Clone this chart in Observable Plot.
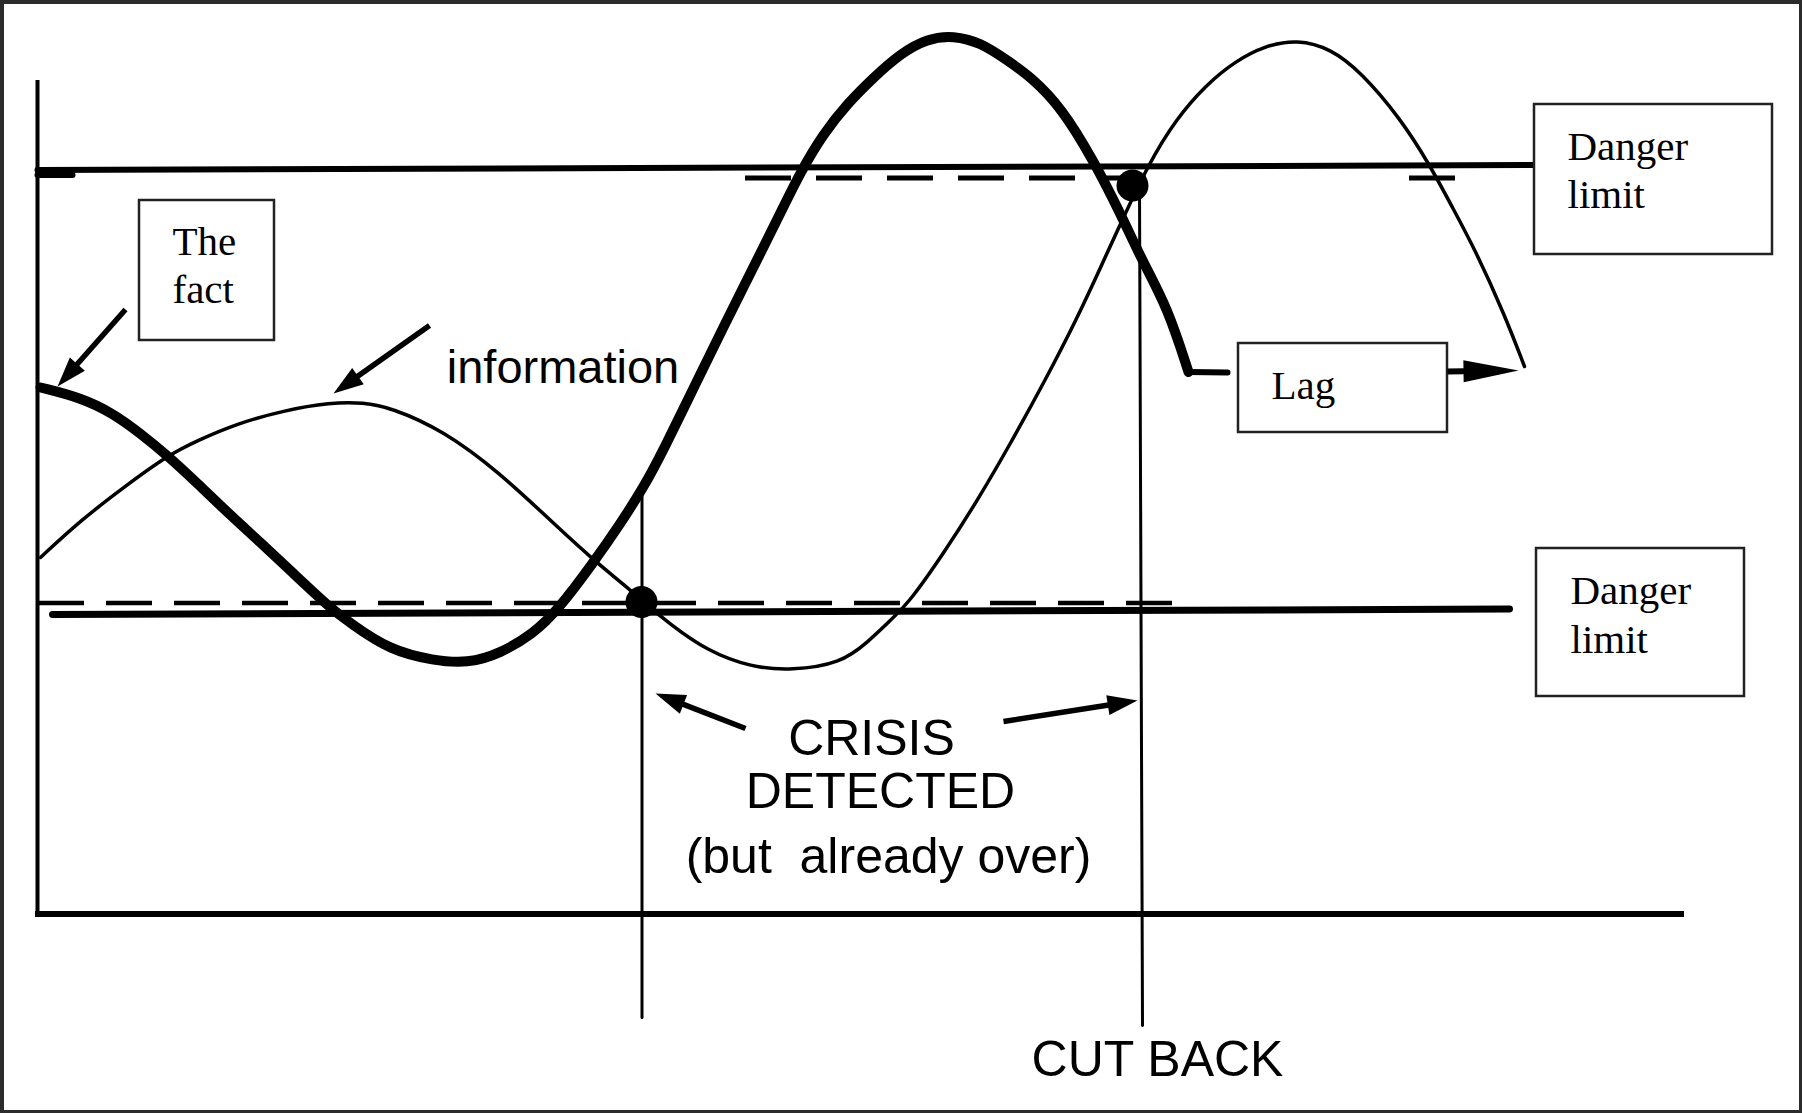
<!DOCTYPE html>
<html>
<head>
<meta charset="utf-8">
<script src="https://cdn.jsdelivr.net/npm/d3@7"></script>
<script src="https://cdn.jsdelivr.net/npm/@observablehq/plot@0.6"></script>
<style>
  html, body { margin: 0; padding: 0; background: #fff; overflow: hidden; }
</style>
</head>
<body>
<div id="chart"></div>
<script>
// ---- Data (time units along x, level units along y; 0 = bottom axis) ----
// "The fact" (thick curve)
const factT = [0.3, 4.3, 7.6, 10.3, 13.0, 16.0, 19.0, 22.3, 25.6, 29.0, 31.3, 35.3, 39.6, 43.0, 46.3, 49.6, 52.0, 55.6, 58.3, 60.6, 62.5, 66.0, 68.6, 70.6, 72.3, 74.3, 76.3, 78.6, 81.0, 83.6, 86.3, 89.0, 91.6, 94.3, 97.0, 99.3, 102.4, 105.6, 108.3, 110.6, 113.0, 115.1];
const factLevel = [52.65, 51.65, 50.05, 48.05, 45.85, 43.05, 40.15, 37.15, 34.05, 30.85, 29.05, 26.35, 25.35, 25.05, 26.05, 28.05, 30.35, 35.15, 39.05, 42.65, 46.2, 53.4, 58.7, 62.7, 66.1, 70.1, 74.2, 78.05, 81.05, 83.65, 86.05, 87.55, 87.85, 87.15, 85.35, 83.75, 80.65, 75.35, 70.05, 65.05, 60.65, 54.2];
// horizontal tail of the fact curve leading to the "Lag" box
const lagTailT = [115.1, 119.0];
const lagTailLevel = [54.2, 54.15];

// "information" (thin curve)
const infoT = [0.3, 4.3, 8.6, 13.0, 16.0, 20.0, 24.6, 29.3, 32.6, 35.3, 40.6, 46.3, 51.3, 55.3, 59.0, 60.4, 63.3, 66.9, 71.4, 75.4, 80.3, 83.0, 85.6, 87.3, 90.6, 94.0, 97.3, 100.6, 104.0, 106.3, 108.0, 111.0, 113.9, 116.8, 119.7, 122.8, 126.0, 129.3, 132.3, 136.3, 139.2, 141.5, 143.8, 146.7, 148.7];
const infoLevel = [35.65, 39.35, 42.65, 45.85, 47.35, 49.05, 50.35, 51.15, 51.15, 50.65, 48.35, 44.05, 39.35, 35.65, 32.65, 31.35, 28.95, 26.35, 24.65, 24.35, 25.05, 27.15, 29.65, 31.35, 36.05, 41.35, 47.05, 53.05, 59.65, 64.65, 68.35, 74.85, 79.55, 82.85, 85.25, 86.85, 87.45, 86.55, 84.25, 79.55, 74.95, 70.65, 66.35, 59.95, 54.75];

// Danger limits (solid) and warning levels (dashed)
const upperLimitT = [0, 149.7];
const upperLimitLevel = [74.4, 74.9];
const upperStubT = [0, 3.5];
const upperStubLevel = [73.9, 73.9];
const lowerLimitT = [1.5, 147.2];
const lowerLimitLevel = [29.95, 30.5];
const upperWarnStart = [70.8, 137.2];
const upperWarnEnd = [113.0, 142.4];
const upperWarnLevel = [73.6, 73.6];
const lowerWarnStart = [0.1];
const lowerWarnEnd = [114.2];
const lowerWarnLevel = [31.1];

// Axes extents
const timeAxisStart = -0.2;
const timeAxisEnd = 164.7;
const levelAxisTop = 83.35;

// Event lines: crisis detected, cut back
const crisisT = [60.45, 60.45];
const crisisLevel = [43.05, -10.35];
const cutbackT = [110.2, 110.5];
const cutbackLevel = [72.35, -11.15];
const markerT = [60.4, 109.5];
const markerLevel = [31.2, 72.85];

// Label boxes: The fact, Danger limit (upper), Lag, Danger limit (lower)
const boxLeft = [10.2, 149.7, 120.1, 149.9];
const boxRight = [23.7, 173.5, 141.0, 170.7];
const boxTop = [71.35, 80.95, 57.05, 36.55];
const boxBottom = [57.35, 65.95, 48.15, 21.75];

const boxLabels = ["The", "fact", "Danger", "limit", "Lag", "Danger", "limit"];
const boxLabelT = [13.5, 13.5, 153.0, 153.0, 123.4, 153.3, 153.3];
const boxLabelLevel = [65.95, 61.15, 75.45, 70.65, 51.55, 31.05, 26.15];

const noteLabels = ["information", "CRISIS", "DETECTED", "(but\u00a0 already over)", "CUT BACK"];
const noteT = [52.55, 83.4, 84.3, 85.1, 112.0];
const noteLevel = [53.15, 15.95, 10.65, 4.15, -16.15];

// Pointer arrows: fact, information, crisis left, crisis right
const arrowFromT = [8.8, 39.2, 70.8, 96.6];
const arrowFromLevel = [60.45, 58.85, 18.55, 19.25];
const arrowToT = [2.0, 29.6, 61.8, 110.0];
const arrowToLevel = [52.75, 52.05, 22.05, 21.35];
// Lag arrow
const lagArrowFromT = [141.0];
const lagArrowFromLevel = [54.25];
const lagArrowToT = [148.1];
const lagArrowToLevel = [54.35];

// ---- Build ----
const fact = factT.map((t, i) => ({t, level: factLevel[i]}));
const info = infoT.map((t, i) => ({t, level: infoLevel[i]}));

const X_DOMAIN = [-3.7, 176.5];
const Y_DOMAIN = [-19.95, 91.35];
const W = 1802, H = 1113;
const pxX = W / (X_DOMAIN[1] - X_DOMAIN[0]);
const pxY = H / (Y_DOMAIN[1] - Y_DOMAIN[0]);

function makeArrows(x1s, y1s, x2s, y2s, headPx) {
  return x1s.map((x1, i) => {
    const y1 = y1s[i], x2 = x2s[i], y2 = y2s[i];
    const dx = (x2 - x1) * pxX, dy = (y2 - y1) * pxY;
    const len = Math.hypot(dx, dy);
    const back = headPx * 0.7;
    return {
      x1, y1, x2, y2,
      bx: x2 - (dx / len) * back / pxX,
      by: y2 - (dy / len) * back / pxY,
      angle: Math.atan2(dx, dy) * 180 / Math.PI
    };
  });
}
const pointers = makeArrows(arrowFromT, arrowFromLevel, arrowToT, arrowToLevel, 30);
const lagArrow = makeArrows(lagArrowFromT, lagArrowFromLevel, lagArrowToT, lagArrowToLevel, 55);

const serif = "'Liberation Serif', 'Times New Roman', serif";
const sans = "'Liberation Sans', Arial, sans-serif";

const chart = Plot.plot({
  width: W,
  height: H,
  margin: 0,
  x: {domain: X_DOMAIN, axis: null},
  y: {domain: Y_DOMAIN, axis: null},
  style: {background: "white", overflow: "hidden"},
  marks: [
    // axes
    Plot.ruleX([0], {y1: 0, y2: levelAxisTop, stroke: "black", strokeWidth: 4}),
    Plot.ruleY([0], {x1: timeAxisStart, x2: timeAxisEnd, stroke: "black", strokeWidth: 6}),
    // danger limits
    Plot.line(upperLimitT, {x: upperLimitT, y: upperLimitLevel, stroke: "black", strokeWidth: 6}),
    Plot.line(upperStubT, {x: upperStubT, y: upperStubLevel, stroke: "black", strokeWidth: 6}),
    Plot.line(lowerLimitT, {x: lowerLimitT, y: lowerLimitLevel, stroke: "black", strokeWidth: 7, strokeLinecap: "round"}),
    Plot.ruleY(upperWarnLevel, {x1: upperWarnStart, x2: upperWarnEnd, stroke: "black", strokeWidth: 5, strokeDasharray: "46,25"}),
    Plot.ruleY(lowerWarnLevel, {x1: lowerWarnStart, x2: lowerWarnEnd, stroke: "black", strokeWidth: 4.5, strokeDasharray: "46,22"}),
    // event lines
    Plot.line(crisisT, {x: crisisT, y: crisisLevel, stroke: "black", strokeWidth: 3}),
    Plot.line(cutbackT, {x: cutbackT, y: cutbackLevel, stroke: "black", strokeWidth: 3}),
    // curves
    Plot.line(info, {x: "t", y: "level", curve: "basis", stroke: "black", strokeWidth: 3.5, strokeLinecap: "round"}),
    Plot.line(fact, {x: "t", y: "level", curve: "basis", stroke: "black", strokeWidth: 10, strokeLinejoin: "round"}),
    Plot.line(lagTailT, {x: lagTailT, y: lagTailLevel, stroke: "black", strokeWidth: 6}),
    // markers
    Plot.dot(markerT, {x: markerT, y: markerLevel, r: 16, fill: "black", stroke: "none"}),
    // boxes
    Plot.rect(boxLeft, {x1: boxLeft, x2: boxRight, y1: boxBottom, y2: boxTop, fill: "white", stroke: "#222", strokeWidth: 2.5}),
    // pointer arrows
    Plot.link(pointers, {x1: "x1", y1: "y1", x2: "bx", y2: "by", stroke: "black", strokeWidth: 5.5}),
    Plot.vector(pointers, {x: "x2", y: "y2", rotate: "angle", length: 30, r: 10, shape: "spike", anchor: "end", fill: "black", stroke: "none"}),
    Plot.link(lagArrow, {x1: "x1", y1: "y1", x2: "bx", y2: "by", stroke: "black", strokeWidth: 6}),
    Plot.vector(lagArrow, {x: "x2", y: "y2", rotate: "angle", length: 55, r: 11, shape: "spike", anchor: "end", fill: "black", stroke: "none"}),
    // texts
    Plot.text(boxLabels, {x: boxLabelT, y: boxLabelLevel, text: d => d, textAnchor: "start", lineAnchor: "bottom", fontFamily: serif, fontSize: 41, fill: "black"}),
    Plot.text(noteLabels.slice(0, 1), {x: noteT.slice(0, 1), y: noteLevel.slice(0, 1), text: d => d, textAnchor: "middle", lineAnchor: "bottom", fontFamily: sans, fontSize: 47, fill: "black"}),
    Plot.text(noteLabels.slice(1), {x: noteT.slice(1), y: noteLevel.slice(1), text: d => d, textAnchor: "middle", lineAnchor: "bottom", fontFamily: sans, fontSize: 50, fill: "black"}),
    // image border
    Plot.frame({stroke: "#2b2b2b", strokeWidth: 7})
  ]
});
document.getElementById("chart").appendChild(chart);
</script>
</body>
</html>
